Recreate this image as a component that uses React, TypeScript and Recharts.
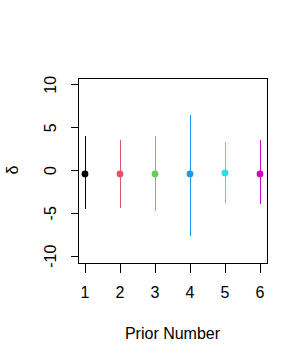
import { ComposedChart, Scatter, ErrorBar, XAxis, YAxis, ReferenceArea, Label } from 'recharts'

const priors = [1, 2, 3, 4, 5, 6]
const means = [-0.4, -0.4, -0.4, -0.4, -0.28, -0.4]
const lower = [-4.52, -4.36, -4.71, -7.63, -3.78, -3.93]
const upper = [4.08, 3.54, 4.0, 6.45, 3.3, 3.54]
const colors = ['#000000', '#DF536B', '#61D04F', '#2297E6', '#28E2E5', '#CD0BBC']
const yTicks = [-10, -5, 0, 5, 10]

const font = '"Liberation Sans", Arial, sans-serif'

function YTick({ x, y, payload }: { x?: number; y?: number; payload?: { value: number } }) {
  const tx = (x ?? 0) - 13
  return (
    <text x={tx} y={y} transform={`rotate(-90, ${tx}, ${y})`} textAnchor="middle" fontSize={16} fontFamily={font} fill="#000">
      {payload?.value}
    </text>
  )
}

function Dot({ cx, cy, fill }: { cx?: number; cy?: number; fill?: string }) {
  return <circle cx={cx} cy={cy} r={3.4} fill={fill} />
}

export default function App() {
  return (
    <div style={{ position: 'absolute', left: 0, top: 0, width: 307, height: 361, background: '#fff' }}>
      <style>{'.recharts-surface line, .recharts-reference-area path { shape-rendering: crispEdges; }'}</style>
      <ComposedChart width={307} height={361} margin={{ top: 78, right: 40, bottom: 0, left: 0 }}>
        <XAxis
          type="number"
          dataKey="x"
          domain={[0.8, 6.2]}
          ticks={priors}
          allowDataOverflow
          height={98}
          tickSize={10}
          tickMargin={14}
          axisLine={false}
          tickLine={{ stroke: '#000' }}
          tick={{ fill: '#000', fontSize: 16, fontFamily: font }}
        >
          <Label value="Prior Number" position="insideBottom" offset={22} fill="#000" fontSize={16} fontFamily={font} />
        </XAxis>
        <YAxis
          type="number"
          dataKey="y"
          domain={[-10.8, 10.8]}
          ticks={yTicks}
          allowDataOverflow
          width={78}
          tickSize={7}
          tickMargin={2}
          axisLine={false}
          tickLine={{ stroke: '#000' }}
          tick={<YTick />}
        >
          <Label
            content={() => (
              <text x={18} y={170} transform="rotate(-90, 18, 170)" textAnchor="middle" fontSize={16} fontFamily={font} fill="#000">
                δ
              </text>
            )}
          />
        </YAxis>
        <ReferenceArea x1={0.8} x2={6.2} y1={-10.8} y2={10.8} fill="none" stroke="#000" strokeWidth={1} fillOpacity={0} />
        {priors.map((p, i) => (
          <Scatter
            key={p}
            data={[{ x: p, y: means[i], err: [means[i] - lower[i], upper[i] - means[i]] }]}
            fill={colors[i]}
            shape={<Dot />}
            isAnimationActive={false}
          >
            <ErrorBar dataKey="err" direction="y" width={0} stroke={colors[i]} strokeWidth={1} isAnimationActive={false} />
          </Scatter>
        ))}
      </ComposedChart>
    </div>
  )
}
